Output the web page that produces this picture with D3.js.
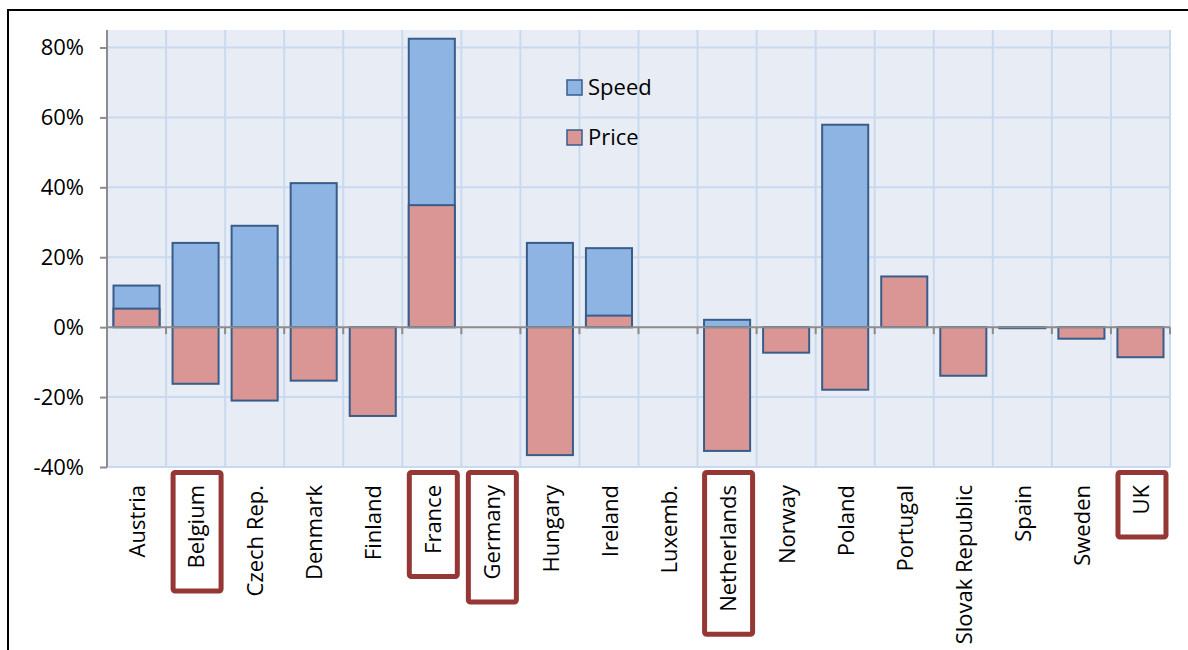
<!DOCTYPE html>
<html>
<head>
<meta charset="utf-8">
<script src="https://cdn.jsdelivr.net/npm/d3@7"></script>
<style>
  html, body { margin: 0; padding: 0; background: #fff; }
  svg { display: block; }
  text { font-family: "Open Sans", "Noto Sans", sans-serif; fill: #000; }
</style>
</head>
<body>
<svg id="chart" width="1188" height="650"></svg>
<script>
const categories = ["Austria","Belgium","Czech Rep.","Denmark","Finland","France","Germany","Hungary","Ireland","Luxemb.","Netherlands","Norway","Poland","Portugal","Slovak Republic","Spain","Sweden","UK"];
const speedValues = [11.9, 24.1, 29.0, 41.2, 0, 82.5, 0, 24.1, 22.6, 0, 2.1, 0, 57.9, 0, 0, 0, 0, 0];
const priceValues = [5.3, -16.2, -21.0, -15.3, -25.4, 34.9, 0, -36.6, 3.3, 0, -35.4, -7.3, -17.9, 14.5, -13.9, -0.3, -3.3, -8.6];
const yTicks = [-40, -20, 0, 20, 40, 60, 80];
const seriesNames = ["Speed", "Price"];
const highlighted = ["Belgium", "France", "Germany", "Netherlands", "UK"];

const colors = { Speed: "#8EB4E3", Price: "#D99694" };
const barStroke = "#385D8A";

const svg = d3.select("#chart");
const W = 1188, H = 650;
const plot = { left: 107, right: 1170, top: 30, bottom: 467 };

// outer frame (top + left)
svg.append("path")
  .attr("d", `M8,650 L8,10 L1188,10`)
  .attr("fill", "none").attr("stroke", "#000").attr("stroke-width", 2);

const x = d3.scaleBand().domain(categories).range([plot.left, plot.right])
  .paddingInner(0.22).paddingOuter(0.11);
const y = d3.scaleLinear().domain([-40, 85]).range([plot.bottom, plot.top]);

// plot background
svg.append("rect")
  .attr("x", plot.left).attr("y", plot.top)
  .attr("width", plot.right - plot.left).attr("height", plot.bottom - plot.top)
  .attr("fill", "#E8ECF4");

const step = x.step();
// vertical gridlines
const g = svg.append("g");
d3.range(1, categories.length + 1).forEach(i => {
  const gx = plot.left + i * step;
  g.append("line").attr("x1", gx).attr("x2", gx)
    .attr("y1", plot.top).attr("y2", plot.bottom)
    .attr("stroke", "#C9DAF0").attr("stroke-width", 2);
});
// horizontal gridlines
yTicks.forEach(t => {
  if (t === 0) return;
  g.append("line").attr("x1", plot.left).attr("x2", plot.right)
    .attr("y1", y(t)).attr("y2", y(t))
    .attr("stroke", "#C9DAF0").attr("stroke-width", 2);
});

// bars: speed behind, price in front
const bars = svg.append("g");
const seriesData = { Speed: speedValues, Price: priceValues };
seriesNames.forEach(name => {
  bars.selectAll(null)
    .data(categories.map((c, i) => ({ c, v: seriesData[name][i] })).filter(d => d.v !== 0))
    .enter().append("rect")
    .attr("x", d => x(d.c))
    .attr("width", x.bandwidth())
    .attr("y", d => y(Math.max(0, d.v)))
    .attr("height", d => Math.abs(y(d.v) - y(0)))
    .attr("fill", colors[name])
    .attr("stroke", barStroke).attr("stroke-width", 2);
});

// y axis
const yAxis = d3.axisLeft(y).tickValues(yTicks).tickSize(7).tickPadding(16)
  .tickFormat(d => d + "%");
const ya = svg.append("g").attr("transform", `translate(${plot.left},0)`).call(yAxis);
ya.select(".domain").attr("d", `M-7,${plot.top}H0V${plot.bottom}H-7`).attr("stroke", "#8C8C8C").attr("stroke-width", 2);
ya.select(".domain").attr("d", `M0,${plot.top}V${plot.bottom}`);
ya.selectAll(".tick line").attr("stroke", "#8C8C8C").attr("stroke-width", 2);
ya.selectAll(".tick text").attr("font-size", 22).style("font-family", '"Open Sans", sans-serif');

// zero line with category ticks
const zx = svg.append("g");
zx.append("line").attr("x1", plot.left).attr("x2", plot.right)
  .attr("y1", y(0)).attr("y2", y(0))
  .attr("stroke", "#8C8C8C").attr("stroke-width", 2);
d3.range(1, categories.length + 1).forEach(i => {
  const gx = plot.left + i * step;
  zx.append("line").attr("x1", gx).attr("x2", gx)
    .attr("y1", y(0)).attr("y2", y(0) + 7)
    .attr("stroke", "#8C8C8C").attr("stroke-width", 2);
});

// x labels (rotated)
const labels = svg.append("g");
const labelTop = 485;
const labelNodes = {};
categories.forEach(c => {
  const cx = x(c) + x.bandwidth() / 2 + 1;
  const t = labels.append("text")
    .attr("transform", `translate(${cx},${labelTop}) rotate(-90)`)
    .attr("text-anchor", "end")
    .attr("dy", "0.35em")
    .attr("font-size", 22)
    .text(c);
  labelNodes[c] = t;
});

// highlight boxes
highlighted.forEach(c => {
  const len = labelNodes[c].node().getComputedTextLength();
  const cx = x(c) + x.bandwidth() / 2;
  const bx = cx - 25, bw = 53;
  const by = 470, bh = (labelTop + len + 25) - by;
  svg.append("rect")
    .attr("x", bx + 2.5).attr("y", by + 2.5)
    .attr("width", bw - 5).attr("height", bh - 5)
    .attr("rx", 2).attr("ry", 2)
    .attr("fill", "none").attr("stroke", "#953735").attr("stroke-width", 5);
});

// legend
const legend = svg.append("g").attr("transform", "translate(567,80)");
seriesNames.forEach((name, i) => {
  const row = legend.append("g").attr("transform", `translate(0,${i * 50})`);
  row.append("rect").attr("x", 0).attr("y", 0).attr("width", 15).attr("height", 15)
    .attr("fill", colors[name]).attr("stroke", barStroke).attr("stroke-width", 1.5);
  row.append("text").attr("x", 21).attr("y", 7.5).attr("dy", "0.35em")
    .attr("font-size", 22).text(name);
});
</script>
</body>
</html>
